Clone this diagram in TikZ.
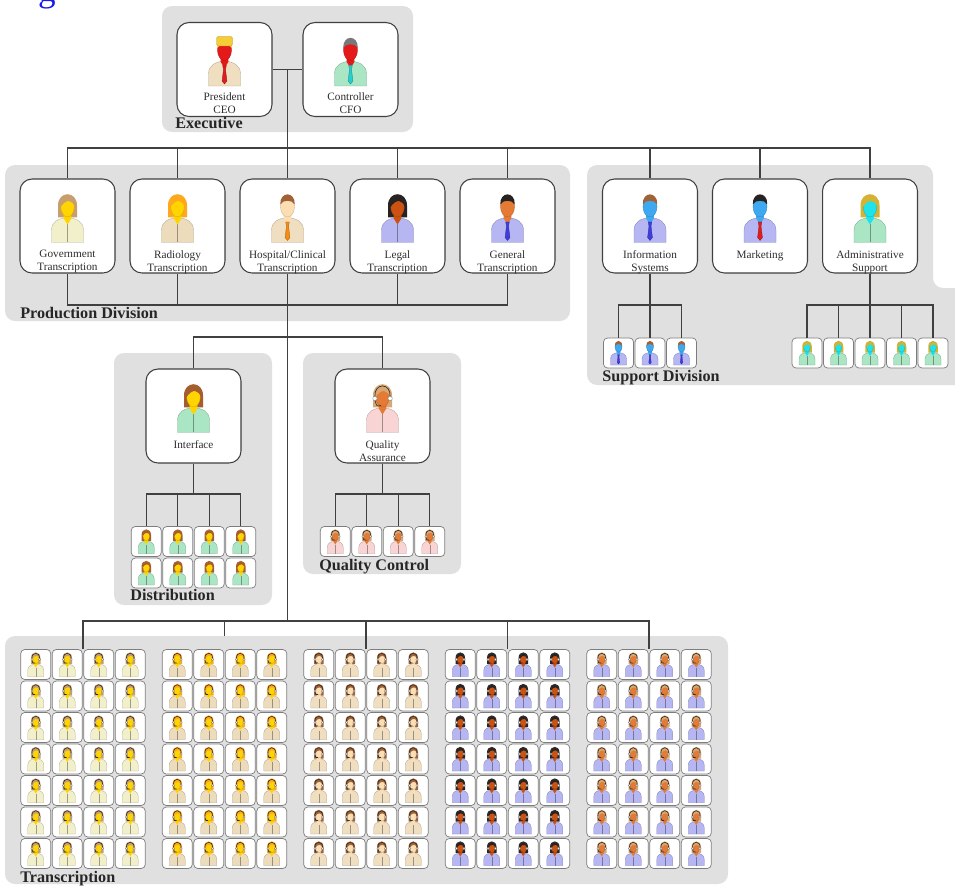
\documentclass[tikz,border=0pt]{standalone}
\usepackage{fontspec}
\setmainfont{Liberation Serif}
\usetikzlibrary{positioning,calc}

% panels and wiring
\definecolor{panel}{RGB}{224,224,224}
\definecolor{wire}{RGB}{64,64,64}
\definecolor{rim}{RGB}{125,125,125}
\definecolor{inkgray}{RGB}{45,45,45}
\definecolor{titleblue}{RGB}{25,25,235}
% hair
\definecolor{hblond}{RGB}{245,205,55}
\definecolor{hsilver}{RGB}{120,120,120}
\definecolor{hlight}{RGB}{200,158,110}
\definecolor{horange}{RGB}{255,168,30}
\definecolor{hbrown}{RGB}{160,98,55}
\definecolor{hblack}{RGB}{40,35,35}
\definecolor{hgold}{RGB}{212,178,52}
\definecolor{hauburn}{RGB}{165,92,48}
\definecolor{htan}{RGB}{215,168,115}
% faces
\definecolor{fred}{RGB}{228,25,25}
\definecolor{fyellow}{RGB}{255,212,0}
\definecolor{fpeach}{RGB}{253,222,178}
\definecolor{fdark}{RGB}{205,82,18}
\definecolor{forange}{RGB}{228,122,52}
\definecolor{fblue}{RGB}{62,168,240}
\definecolor{fcyan}{RGB}{30,226,236}
% clothes
\definecolor{cbeige}{RGB}{240,222,192}
\definecolor{cmint}{RGB}{170,230,195}
\definecolor{ccream}{RGB}{242,240,202}
\definecolor{ctan}{RGB}{236,220,188}
\definecolor{clav}{RGB}{182,182,242}
\definecolor{cpink}{RGB}{248,212,212}
% ties
\definecolor{tred}{RGB}{222,30,30}
\definecolor{tcyan}{RGB}{40,205,205}
\definecolor{torange}{RGB}{246,140,20}
\definecolor{tblue}{RGB}{62,62,222}

\begin{document}
\begin{tikzpicture}[
  x=0.02cm, y=-0.02cm,
  area/.style={fill=panel, rounded corners=0.2cm},
  unit/.style={draw=wire, fill=white, line width=0.6pt, rounded corners=0.24cm,
    minimum width=1.9cm, minimum height=1.88cm, inner sep=0pt},
  staff/.style={draw=rim, fill=white, line width=0.4pt, rounded corners=0.08cm,
    minimum size=0.6cm, inner sep=0pt},
  caption/.style={font=\fontsize{6.4}{7.4}\selectfont, align=center, inner sep=0pt, text=inkgray},
  group/.style={font=\bfseries\fontsize{9.2}{11}\selectfont, anchor=base west, inner sep=0pt,
    text=black!85},
  link/.style={draw=wire, line width=0.6pt},
  % person glyphs, drawn in pixel units around the figure's middle
  pics/man/.style n args={4}{code={
    \fill[#3, draw=#3!75!black, line width=.2pt]
      (-16,24) -- (-16,12) .. controls (-16,3) and (-9,0) .. (0,-1)
      .. controls (9,0) and (16,3) .. (16,12) -- (16,24) -- cycle;
    \fill[#2] (-3.8,-6) -- (3.8,-6) -- (3.8,0) -- (0,6) -- (-3.8,0) -- cycle;
    \fill[#4, draw=#4!70!black, line width=.2pt] (-1.8,3.5) -- (1.8,3.5) -- (1,7.5)
      -- (2.4,19) -- (0,22) -- (-2.4,19) -- (-1,7.5) -- cycle;
    \fill[#2, draw=#2!80!black, line width=.2pt] (0,-12) ellipse (7 and 10.5);
    \fill[#1] (-7.2,-14) .. controls (-8,-27.5) and (8,-27.5) .. (7.2,-14)
      .. controls (5,-19) and (-5,-19) .. (-7.2,-14) -- cycle;
  }},
  pics/woman/.style n args={3}{code={
    \fill[#1] (-9.5,-1) -- (-9.5,-13) .. controls (-9.5,-28) and (9.5,-28) .. (9.5,-13)
      -- (9.5,-1) -- cycle;
    \fill[#3, draw=#3!75!black, line width=.2pt]
      (-16,24) -- (-16,12) .. controls (-16,3) and (-9,0) .. (0,-1)
      .. controls (9,0) and (16,3) .. (16,12) -- (16,24) -- cycle;
    \draw[#3!65!black, line width=.2pt] (0,6) -- (0,24);
    \fill[#2] (-3.8,-6) -- (3.8,-6) -- (3.8,0) -- (0,6) -- (-3.8,0) -- cycle;
    \fill[#2, draw=#2!80!black, line width=.2pt] (0,-12) ellipse (6.8 and 10.5);
    \fill[#1] (-7.3,-11) .. controls (-8.5,-27) and (8.5,-27) .. (7.3,-11)
      .. controls (6,-18) and (-1,-21) .. (-7.3,-11) -- cycle;
  }},
  pics/flattop/.style={code={
    \fill[#1, draw=#1!75!black, line width=.2pt, rounded corners=1pt]
      (-8,-16) rectangle (8,-25.5);
  }},
  pics/headset/.style={code={
    \draw[inkgray, line width=.35pt] (-7.6,-12) .. controls (-8.5,-26) and (8.5,-26) .. (7.6,-12);
    \draw[inkgray, line width=.35pt] (-7.6,-9) .. controls (-6,-2) .. (-1.5,-3);
    \fill[white, draw=rim, line width=.2pt] (-7.6,-10) circle (2.2) (7.6,-10) circle (2.2);
  }}
]
\useasboundingbox (0,0) rectangle (955,886);

% title, cut off at the top edge
\node[font=\fontsize{20}{24}\selectfont, text=titleblue, anchor=base, inner sep=0pt]
  (title) at (47,1) {g};

% shaded group panels
\fill[area] (162,6) rectangle (413,132);
\fill[area] (5,165) rectangle (570,321);
\fill[area] (587,165) -- (933,165) -- (933,288) -- (975,288) -- (975,385) -- (587,385) -- cycle;
\fill[area] (114,353) rectangle (272,605);
\fill[area] (303,353) rectangle (461,574);
\fill[area] (5,636) rectangle (728,884);

% executive
\node[unit] (pres) at (224.5,69.5) {};
\node[unit] (ctrl) at (350.5,69.5) {};
\pic at ($(pres.north)+(0,40)$) {man={hblond}{fred}{cbeige}{tred}};
\pic at ($(pres.north)+(0,40)$) {flattop=hblond};
\pic at ($(ctrl.north)+(0,40)$) {man={hsilver}{fred}{cmint}{tcyan}};
\node[caption, below=1.41cm of pres.north] (pres-l) {President\\CEO};
\node[caption, below=1.41cm of ctrl.north] (ctrl-l) {Controller\\CFO};
\node[group] (exec-l) at (175,128.5) {Executive};

% production division
\node[unit] (gov)  at (67.5,226) {};
\node[unit] (rad)  at (177.5,226) {};
\node[unit] (hosp) at (287.5,226) {};
\node[unit] (leg)  at (397.5,226) {};
\node[unit] (gen)  at (507.5,226) {};
\pic at ($(gov.north)+(0,40)$)  {woman={hlight}{fyellow}{ccream}};
\pic at ($(rad.north)+(0,40)$)  {woman={horange}{fyellow}{ctan}};
\pic at ($(hosp.north)+(0,40)$) {man={hbrown}{fpeach}{cbeige}{torange}};
\pic at ($(leg.north)+(0,40)$)  {woman={hblack}{fdark}{clav}};
\pic at ($(gen.north)+(0,40)$)  {man={hblack}{forange}{clav}{tblue}};
\node[caption, below=1.43cm of gov.north]  (gov-l)  {Government\\Transcription};
\node[caption, below=1.43cm of rad.north]  (rad-l)  {Radiology\\Transcription};
\node[caption, below=1.43cm of hosp.north] (hosp-l) {Hospital/Clinical\\Transcription};
\node[caption, below=1.43cm of leg.north]  (leg-l)  {Legal\\Transcription};
\node[caption, below=1.43cm of gen.north]  (gen-l)  {General\\Transcription};
\node[group] (prod-l) at (20,318) {Production Division};

% support division
\node[unit] (info) at (650,226) {};
\node[unit] (mkt)  at (760,226) {};
\node[unit] (adm)  at (870,226) {};
\pic at ($(info.north)+(0,40)$) {man={hbrown}{fblue}{clav}{tblue}};
\pic at ($(mkt.north)+(0,40)$)  {man={hblack}{fblue}{clav}{tred}};
\pic at ($(adm.north)+(0,40)$)  {woman={hgold}{fcyan}{cmint}};
\node[caption, below=1.43cm of info.north] (info-l) {Information\\Systems};
\node[caption, below=1.43cm of mkt.north]  (mkt-l)  {Marketing};
\node[caption, below=1.43cm of adm.north]  (adm-l)  {Administrative\\Support};
\foreach \c in {1,2,3} {
  \node[staff] (is\c) at ({650+31.5*(\c-2)},353) {};
  \pic[scale=.5] at (is\c) {man={hbrown}{fblue}{clav}{tblue}};
}
\foreach \c in {1,...,5} {
  \node[staff] (ad\c) at ({870+31.5*(\c-3)},353) {};
  \pic[scale=.5] at (ad\c) {woman={hgold}{fcyan}{cmint}};
}
\node[group] (supp-l) at (602,381) {Support Division};

% distribution and quality control
\node[unit] (intf) at (193.5,416) {};
\node[unit] (qa)   at (382.5,416) {};
\pic at ($(intf.north)+(0,40)$) {woman={hauburn}{fyellow}{cmint}};
\pic at ($(qa.north)+(0,40)$)   {woman={htan}{forange}{cpink}};
\pic at ($(qa.north)+(0,40)$)   {headset};
\node[caption, below=1.43cm of intf.north] (intf-l) {Interface};
\node[caption, below=1.43cm of qa.north]   (qa-l)   {Quality\\Assurance};
\foreach \c in {1,...,4} {
  \foreach \r in {1,2} {
    \node[staff] (dist\r-\c) at ({193.5+31.5*(\c-2.5)},{541.5+31.5*(\r-1)}) {};
    \pic[scale=.5] at (dist\r-\c) {woman={hauburn}{fyellow}{cmint}};
  }
  \node[staff] (qc\c) at ({382.5+31.5*(\c-2.5)},541.5) {};
  \pic[scale=.5] at (qc\c) {woman={htan}{forange}{cpink}};
  \pic[scale=.5] at (qc\c) {headset};
}
\node[group] (dist-l) at (130,600) {Distribution};
\node[group] (qc-l) at (319,570) {Quality Control};

% transcription pools, one block of 7x4 per specialty
\foreach \g/\hc/\fc/\bc in {1/hlight/fyellow/ccream, 2/horange/fyellow/ctan,
    3/hbrown/fpeach/cbeige, 4/hblack/fdark/clav, 5/htan/forange/clav} {
  \coordinate (tg\g) at ({83+141.5*(\g-1)},649);
  \foreach \r in {1,...,7}
    \foreach \c in {1,...,4} {
      \node[staff] (tr\g-\r-\c) at ({83+141.5*(\g-1)+31.5*(\c-2.5)},{664.5+31.5*(\r-1)}) {};
      \pic[scale=.5] at (tr\g-\r-\c) {woman={\hc}{\fc}{\bc}};
      \pic[scale=.5] at (tr\g-\r-\c) {headset};
    }
}
\node[group] (tr-l) at (20,882) {Transcription};

% wiring
\coordinate (topbus) at (0,148);
\coordinate (prodbus) at (0,305);
\coordinate (midbus) at (0,337);
\coordinate (teambus) at (0,494);
\coordinate (trbus) at (0,621);
\coordinate (pooltop) at (0,636);
\coordinate (execmid) at ($(pres.east)!0.5!(ctrl.west)$);
\draw[link] (pres.east) -- (ctrl.west);
\draw[link] (execmid) -- (execmid |- hosp.north);
\draw[link] (gov.north) -- (gov.north |- topbus) -| (adm.north);
\foreach \n in {rad,leg,gen,info,mkt}
  \draw[link] (\n.north) -- (\n.north |- topbus);
\draw[link] (gov.south) -- (gov.south |- prodbus) -| (gen.south);
\foreach \n in {rad,leg}
  \draw[link] (\n.south) -- (\n.south |- prodbus);
\draw[link] (hosp.south) -- (hosp.south |- trbus);
\draw[link] (info.south) -- (is2.north);
\draw[link] (is1.north) -- (is1.north |- prodbus) -| (is3.north);
\draw[link] (adm.south) -- (ad3.north);
\draw[link] (ad1.north) -- (ad1.north |- prodbus) -| (ad5.north);
\foreach \n in {ad2,ad4}
  \draw[link] (\n.north) -- (\n.north |- prodbus);
\draw[link] (intf.north) -- (intf.north |- midbus) -| (qa.north);
\draw[link] (intf.south) -- (intf.south |- teambus);
\draw[link] (dist1-1.north) -- (dist1-1.north |- teambus) -| (dist1-4.north);
\foreach \c in {2,3}
  \draw[link] (dist1-\c.north) -- (dist1-\c.north |- teambus);
\draw[link] (qa.south) -- (qa.south |- teambus);
\draw[link] (qc1.north) -- (qc1.north |- teambus) -| (qc4.north);
\foreach \c in {2,3}
  \draw[link] (qc\c.north) -- (qc\c.north |- teambus);
\draw[link] (tg1) -- (tg1 |- trbus) -| (tg5);
\draw[link] (tg2 |- pooltop) -- (tg2 |- trbus);
\foreach \g in {3,4}
  \draw[link] (tg\g) -- (tg\g |- trbus);
\end{tikzpicture}
\end{document}
